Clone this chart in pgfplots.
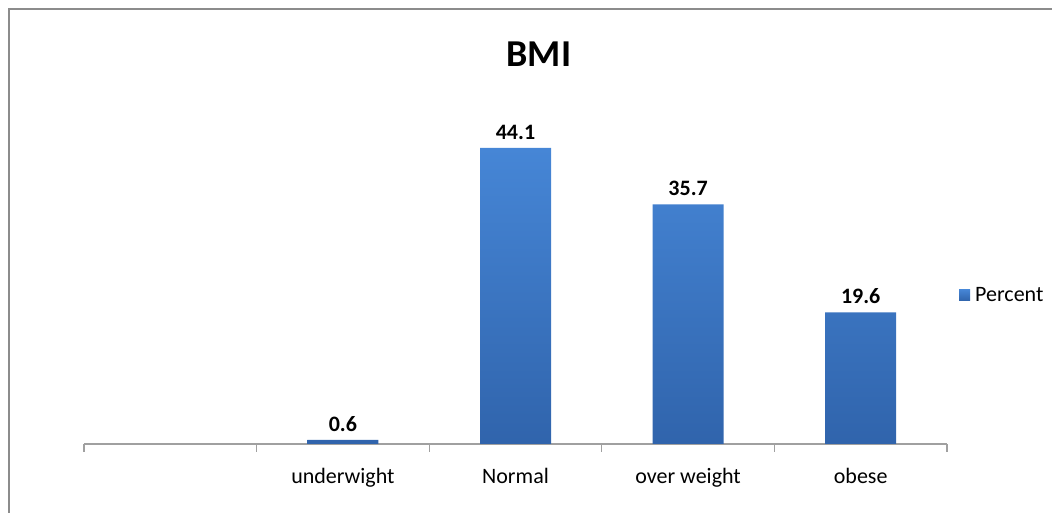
\documentclass[border=0pt]{standalone}
\usepackage{fontspec}
\setmainfont{Carlito}
\usepackage{pgfplots}
\pgfplotsset{compat=1.18}
\definecolor{bartop}{HTML}{4686D6}
\definecolor{barbot}{HTML}{3064AC}
\definecolor{barmid}{HTML}{3C76C4}
\definecolor{framegray}{HTML}{8C8C8C}
\definecolor{axisgray}{HTML}{A0A0A0}
\begin{document}
\begin{tikzpicture}[x=1pt,y=1pt]
  % page = 1052 x 513, origin bottom left
  \useasboundingbox (0,0) rectangle (1052,513);
  \draw[framegray, line width=1.5pt] (9,0) -- (9,504) -- (1052,504);
  \begin{axis}[
      at={(84pt,69pt)}, anchor=south west,
      scale only axis,
      width=863pt, height=335.6pt,
      xmin=-0.5, xmax=4.5,
      ymin=0, ymax=50,
      axis x line*=bottom,
      axis y line=none,
      x axis line style={axisgray, line width=1.2pt},
      xtick={0,1,2,3,4},
      xticklabels={{}, underwight, Normal, over weight, obese},
      major tick length=0pt,
      minor xtick={-0.5,0.5,1.5,2.5,3.5,4.5},
      minor tick length=8pt,
      tick align=outside,
      minor tick style={axisgray, line width=1.2pt},
      xticklabel style={font=\fontsize{22}{26}\selectfont, yshift=-21pt},
      title={BMI},
      title style={font=\fontsize{38}{44}\selectfont\bfseries,
        at={(axis description cs:0.527,1.144)}, anchor=center},
      clip=false,
      legend style={draw=none, fill=none,
        at={(axis description cs:1.0139,0.444)}, anchor=west,
        inner sep=0pt, font=\fontsize{22}{26}\selectfont,
        nodes={inner xsep=5pt}},
      legend image code/.code={
        \fill[barmid] (0pt,-5.5pt) rectangle (11pt,5.5pt);
      },
    ]
    \addplot[ybar, bar width=71pt, bar shift=0pt, draw=none,
      top color=bartop, bottom color=barbot,
      nodes near coords,
      every node near coord/.append style={
        font=\fontsize{22}{26}\selectfont\bfseries, black, yshift=5pt,
        /pgf/number format/assume math mode=true,
        /pgf/number format/fixed, /pgf/number format/precision=1,
        /pgf/number format/fixed zerofill},
    ] coordinates {
      (1, 0.6)
      (2, 44.1)
      (3, 35.7)
      (4, 19.6)
    };
    \addlegendentry{Percent}
  \end{axis}
\end{tikzpicture}
\end{document}
